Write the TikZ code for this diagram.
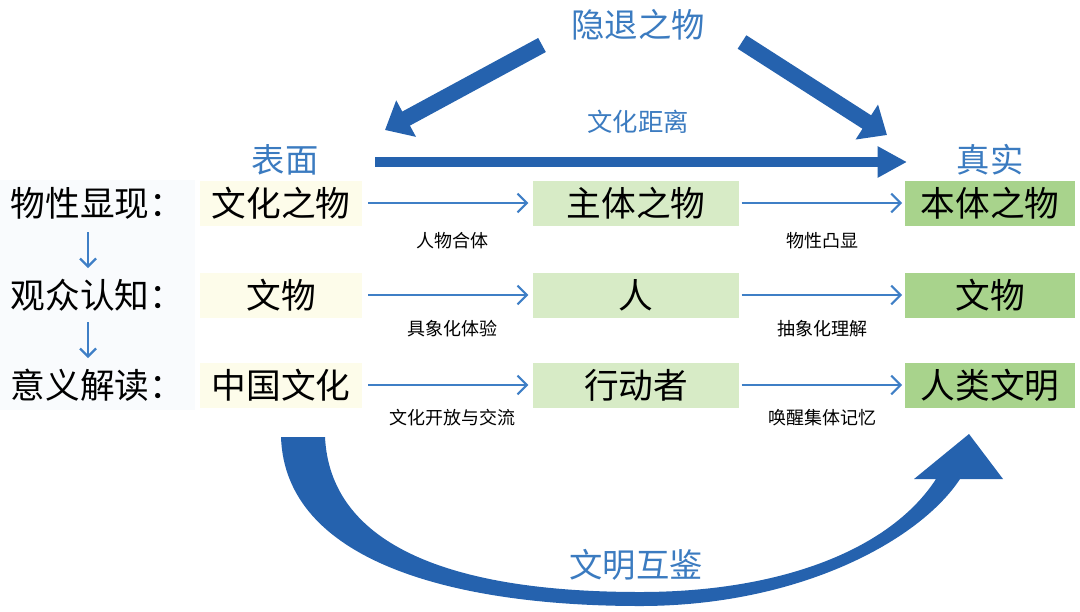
\documentclass[tikz,border=0pt]{standalone}
\usepackage{fontspec}
\setmainfont{Noto Sans CJK SC}
\usetikzlibrary{arrows.meta}
\definecolor{bigblue}{HTML}{2562AE}
\definecolor{thin}{HTML}{3F7FC6}
\definecolor{tblue}{HTML}{3B7BC0}
\definecolor{cream}{HTML}{FDFCEA}
\definecolor{lgreen}{HTML}{D7EBC6}
\definecolor{dgreen}{HTML}{A8D38C}
\definecolor{leftbg}{HTML}{F9FBFD}
\begin{document}
\begin{tikzpicture}[x=0.75pt,y=-0.75pt,
  box/.style={minimum height=33.75pt,inner sep=0pt,font=\fontsize{26}{26}\selectfont},
  lbl/.style={font=\fontsize{26}{26}\selectfont,anchor=west},
  small/.style={font=\fontsize{13.5}{13.5}\selectfont},
  ttl/.style={font=\fontsize{25}{25}\selectfont,text=tblue},
  th/.style={draw=thin,line width=1.6pt,-{Straight Barb[length=7pt,width=14pt]}},
  big/.style={draw=bigblue,-{Triangle[length=18pt,width=30pt]}}]
\useasboundingbox (0,0) rectangle (1080,611);
\fill[leftbg] (0,180) rectangle (195,410);
% boxes
\foreach \r/\y/\a/\b/\c in {1/203/文化之物/主体之物/本体之物,2/295/文物/人/文物,3/385/中国文化/行动者/人类文明}{
  \node[box,fill=cream,minimum width=121.5pt] (a\r) at (281,\y) {\a};
  \node[box,fill=lgreen,minimum width=155pt] (b\r) at (636,\y) {\b};
  \node[box,fill=dgreen,minimum width=127.5pt] (c\r) at (990,\y) {\c};
  \draw[th] (a\r.east)++(6,0) -- ([xshift=-3pt]b\r.west);
  \draw[th] (b\r.east)++(2,0) -- ([xshift=-2pt]c\r.west);
}
\node[lbl] (l1) at (6,203) {物性显现：};
\node[lbl] (l2) at (6,295) {观众认知：};
\node[lbl] (l3) at (6,385) {意义解读：};
\draw[th,-{Straight Barb[length=6pt,width=12pt]}] (88,232) -- (88,268);
\draw[th,-{Straight Barb[length=6pt,width=12pt]}] (88,322) -- (88,358);
\node[small] at (452,241) {人物合体};
\node[small] at (822,241) {物性凸显};
\node[small] at (452,329) {具象化体验};
\node[small] at (822,329) {抽象化理解};
\node[small] at (452,418) {文化开放与交流};
\node[small] at (822,418) {唤醒集体记忆};
% titles
\node[ttl] (sf) at (285,160) {表面};
\node[ttl] (zs) at (990,160) {真实};
\node[ttl] (yt) at (638,25) {隐退之物};
\node[ttl,font=\fontsize{19}{19}\selectfont] (wj) at (638,122) {文化距离};
\node[ttl] (wm) at (636,565) {文明互鉴};
% big arrows
\draw[big,line width=7.5pt,-{Triangle[length=22pt,width=22pt]}] (375,162) -- (907,162);
\draw[big,line width=12pt] (542,45) -- (385,130);
\draw[big,line width=12pt] (742,42) -- (887,135);
\fill[bigblue] (281,437) .. controls (285,560) and (450,606) .. (640,606)
  .. controls (800,606) and (920,540) .. (960,479) -- (1003,479) -- (969,434) -- (914,479) -- (936,479)
  .. controls (890,550) and (780,592) .. (640,592) .. controls (440,592) and (330,540) .. (325,437) -- cycle;
\end{tikzpicture}
\end{document}
